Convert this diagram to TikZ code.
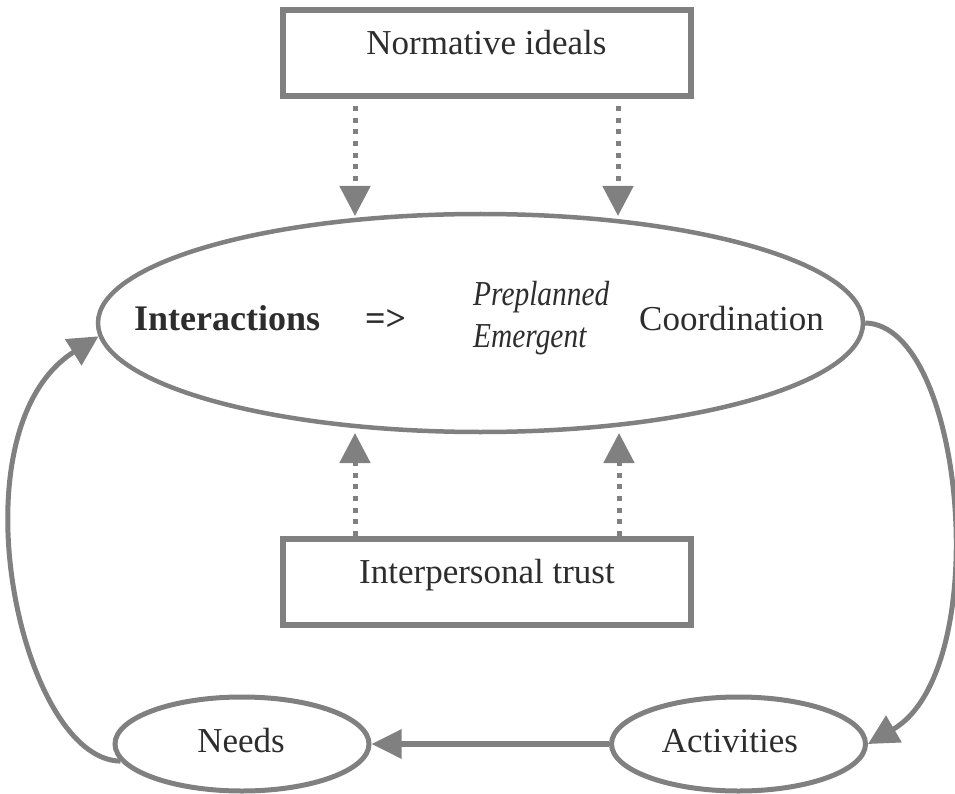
\documentclass[tikz,border=0pt]{standalone}
\usepackage{fontspec}
\setmainfont{Liberation Serif}
\usepackage{graphicx}
\usetikzlibrary{shapes.geometric,arrows.meta}
\definecolor{linegray}{RGB}{128,128,128}
\definecolor{inkgray}{RGB}{45,45,45}

\begin{document}
\begin{tikzpicture}[x=1pt,y=-1pt,
  framebox/.style={draw=linegray,line width=6pt,minimum width=408pt,minimum height=86pt,inner sep=0pt,outer sep=0pt},
  oval/.style={ellipse,draw=linegray,inner sep=0pt},
  lbl/.style={text=inkgray,font=\fontsize{35}{42}\selectfont,inner sep=0pt},
  boldlbl/.style={lbl,font=\fontsize{36}{42}\selectfont\bfseries},
  flow/.style={draw=linegray,line width=5pt,-{Triangle[length=30pt,width=30pt]}},
  dotflow/.style={flow,dash pattern=on 5pt off 6.7pt},
]
\useasboundingbox (0,0) rectangle (955,794);

% boxes
\node[framebox] (norm) at (486.5,53) {};
\node[lbl,anchor=base] (normtxt) at (486.5,55) {Normative ideals};
\node[framebox] (trust) at (486.5,581.5) {};
\node[lbl,anchor=base] (trusttxt) at (487,583) {Interpersonal trust};

% central ellipse and its text
\node[oval,line width=4.5pt,minimum width=765pt,minimum height=218pt] (coord) at (480.5,323) {};
\node[boldlbl,anchor=base west] (inter) at (134,330) {Interactions};
\node[boldlbl,anchor=base west] (implies) at (365,330) {=>};
\node[lbl,anchor=base west] (pre) at (473,305) {\scalebox{0.84}[1]{\itshape Preplanned}};
\node[lbl,anchor=base west] (emer) at (473,347) {\scalebox{0.84}[1]{\itshape Emergent}};
\node[lbl,anchor=base west] (coordtxt) at (639,330) {Coordination};

% lower ellipses
\node[oval,line width=5pt,minimum width=254pt,minimum height=94pt] (needs) at (242,744) {};
\node[lbl,anchor=base] (needstxt) at (241,752) {Needs};
\node[oval,line width=5pt,minimum width=254pt,minimum height=94pt] (act) at (738.5,744) {};
\node[lbl,anchor=base] (acttxt) at (730,752) {Activities};

% dotted influence arrows
\coordinate (n1) at (355,106);
\coordinate (n2) at (618,106);
\coordinate (c1) at (355,216);
\coordinate (c2) at (618,216);
\coordinate (t1) at (355,536);
\coordinate (t2) at (619,536);
\coordinate (b1) at (355,433);
\coordinate (b2) at (619,433);
\draw[dotflow] (n1) -- (c1);
\draw[dotflow] (n2) -- (c2);
\draw[dotflow] (t1) -- (b1);
\draw[dotflow] (t2) -- (b2);

% the cycle
\draw[flow] (coord.east) .. controls (965,325) and (995,670) .. (act.east);
\draw[flow,line width=6pt,-{Triangle[length=30pt,width=28pt]}] (act.west) -- (needs.east);
\draw[flow] (needs.188) .. controls (20,760) and (-50,430) .. (coord.182);
\end{tikzpicture}
\end{document}
